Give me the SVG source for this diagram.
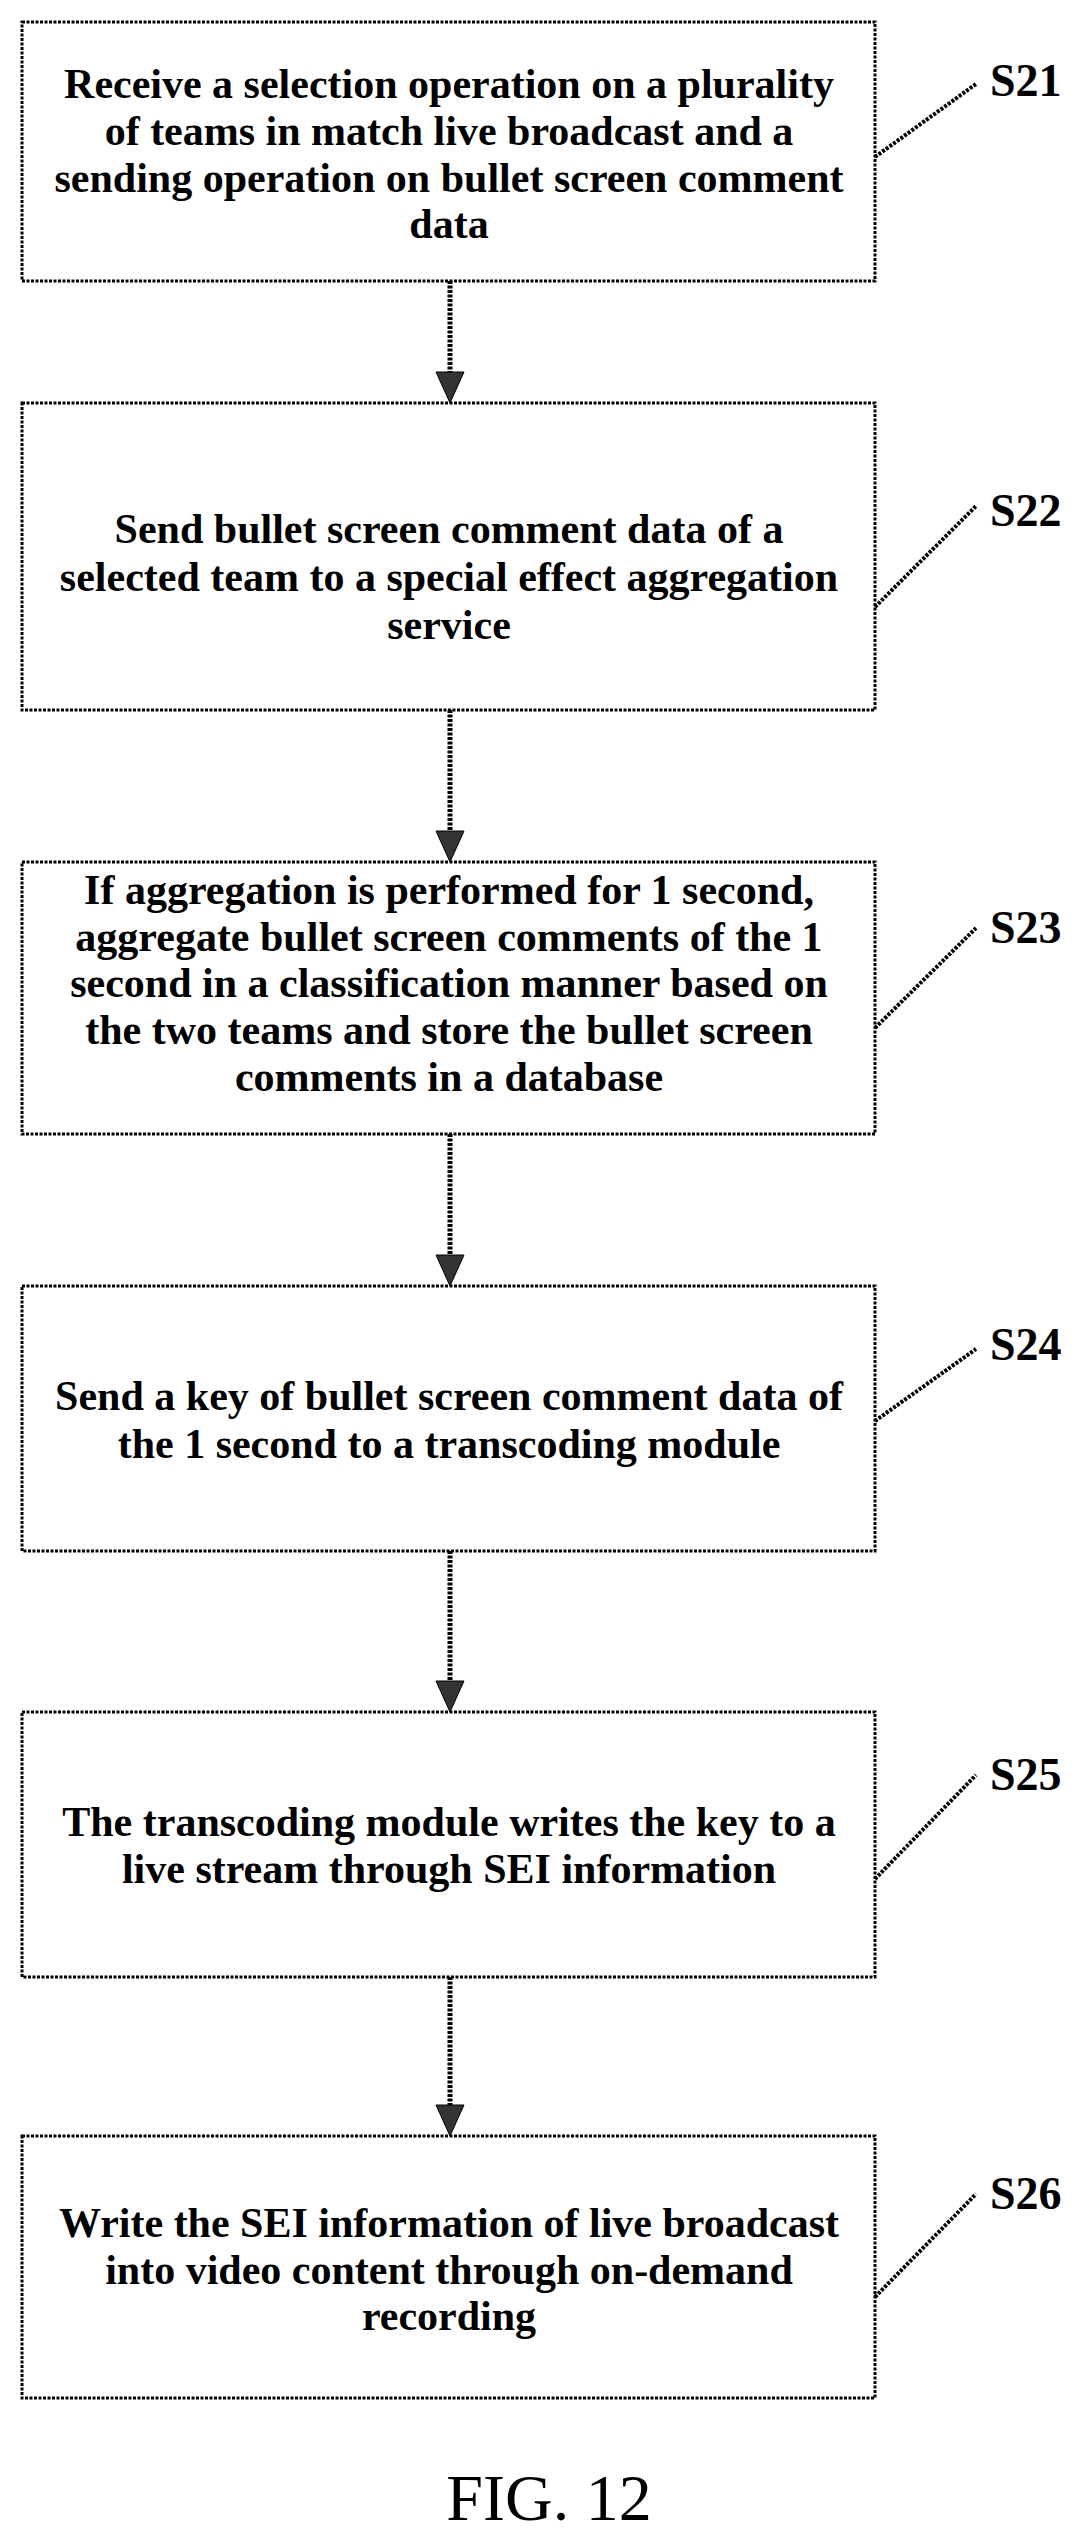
<svg xmlns="http://www.w3.org/2000/svg" width="1092" height="2543" viewBox="0 0 1092 2543">
<style>
.box{fill:#fff;stroke:#000;stroke-width:3;stroke-dasharray:3 1.5}
.t{font-family:"Liberation Serif","Times New Roman",serif;font-size:42px;font-weight:bold;text-anchor:middle;fill:#000}
.l{font-family:"Liberation Serif","Times New Roman",serif;font-size:46px;font-weight:bold;fill:#000}
.ld{stroke:#000;stroke-width:4;stroke-dasharray:3 1.5;fill:none}
.sh{stroke:#000;stroke-width:5;stroke-dasharray:3 1.5;fill:none}
.ah{fill:#333;stroke:#000;stroke-width:1}
</style>
<g id="connectors">
<line class="sh" x1="450" y1="281" x2="450" y2="375"/><polygon class="ah" points="436,372 464,372 450,403"/>
<line class="sh" x1="450" y1="710" x2="450" y2="834"/><polygon class="ah" points="436,831 464,831 450,862"/>
<line class="sh" x1="450" y1="1134" x2="450" y2="1258"/><polygon class="ah" points="436,1255 464,1255 450,1286"/>
<line class="sh" x1="450" y1="1551" x2="450" y2="1684"/><polygon class="ah" points="436,1681 464,1681 450,1712"/>
<line class="sh" x1="450" y1="1977" x2="450" y2="2108"/><polygon class="ah" points="436,2105 464,2105 450,2136"/>
</g>
<g id="S21"><rect class="box" x="22" y="22" width="853" height="259"/>
<text class="t" x="449" y="98">Receive a selection operation on a plurality</text>
<text class="t" x="449" y="145">of teams in match live broadcast and a</text>
<text class="t" x="449" y="192">sending operation on bullet screen comment</text>
<text class="t" x="449" y="238">data</text>
<line class="ld" x1="875" y1="157" x2="976" y2="84"/><text class="l" x="990" y="96">S21</text></g>
<g id="S22"><rect class="box" x="22" y="403" width="853" height="307"/>
<text class="t" x="449" y="543">Send bullet screen comment data of a</text>
<text class="t" x="449" y="591">selected team to a special effect aggregation</text>
<text class="t" x="449" y="639">service</text>
<line class="ld" x1="875" y1="607" x2="976" y2="506"/><text class="l" x="990" y="526">S22</text></g>
<g id="S23"><rect class="box" x="22" y="862" width="853" height="272"/>
<text class="t" x="449" y="904">If aggregation is performed for 1 second,</text>
<text class="t" x="449" y="951">aggregate bullet screen comments of the 1</text>
<text class="t" x="449" y="997">second in a classification manner based on</text>
<text class="t" x="449" y="1044">the two teams and store the bullet screen</text>
<text class="t" x="449" y="1091">comments in a database</text>
<line class="ld" x1="875" y1="1028" x2="976" y2="928"/><text class="l" x="990" y="943">S23</text></g>
<g id="S24"><rect class="box" x="22" y="1286" width="853" height="265"/>
<text class="t" x="449" y="1410">Send a key of bullet screen comment data of</text>
<text class="t" x="449" y="1458">the 1 second to a transcoding module</text>
<line class="ld" x1="875" y1="1421" x2="976" y2="1349"/><text class="l" x="990" y="1360">S24</text></g>
<g id="S25"><rect class="box" x="22" y="1712" width="853" height="265"/>
<text class="t" x="449" y="1836">The transcoding module writes the key to a</text>
<text class="t" x="449" y="1883">live stream through SEI information</text>
<line class="ld" x1="875" y1="1879" x2="976" y2="1775"/><text class="l" x="990" y="1790">S25</text></g>
<g id="S26"><rect class="box" x="22" y="2136" width="853" height="262"/>
<text class="t" x="449" y="2237">Write the SEI information of live broadcast</text>
<text class="t" x="449" y="2284">into video content through on-demand</text>
<text class="t" x="449" y="2330">recording</text>
<line class="ld" x1="875" y1="2297" x2="976" y2="2194"/><text class="l" x="990" y="2209">S26</text></g>
<text x="549" y="2520" style="font-family:'Liberation Serif','Times New Roman',serif;font-size:66px;text-anchor:middle">FIG. 12</text>
</svg>
